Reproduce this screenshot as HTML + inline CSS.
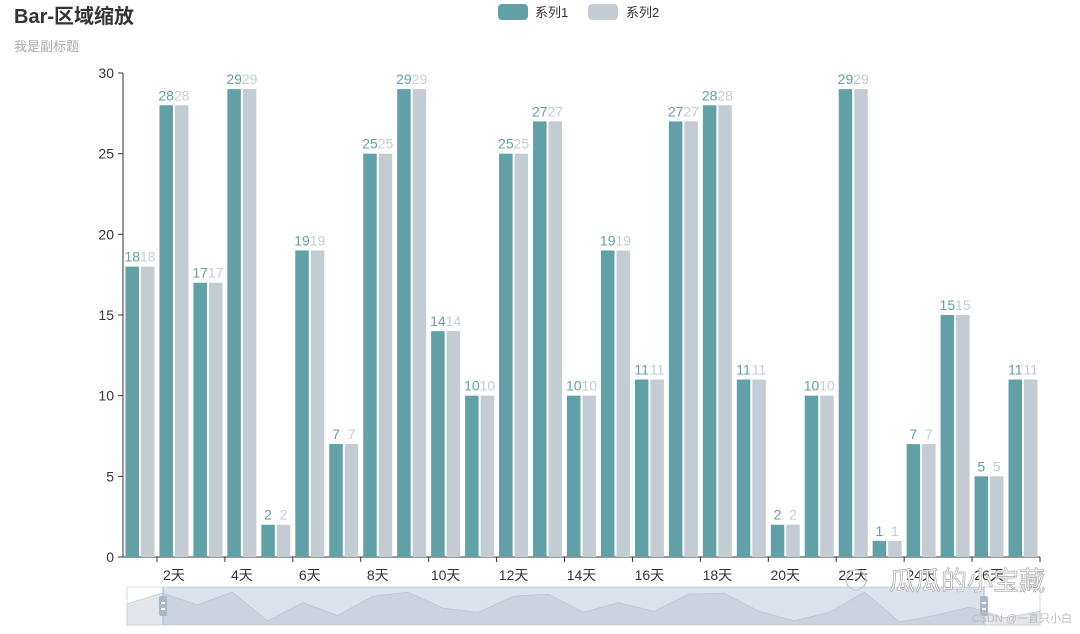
<!DOCTYPE html>
<html><head><meta charset="utf-8">
<style>
body{margin:0;background:#fff;width:1080px;height:629px;overflow:hidden;font-family:"Liberation Sans","Noto Sans CJK SC",sans-serif;}
</style></head>
<body>
<svg id="c" width="1080" height="629" xmlns="http://www.w3.org/2000/svg">
<text x="14" y="23" font-size="20" font-weight="bold" fill="#333">Bar-区域缩放</text>
<text x="14" y="51" font-size="13" fill="#aaa">我是副标题</text>
<g>
<g><rect x="498" y="4" width="30" height="16" rx="4" fill="#62a0a8"/><text x="535" y="17" font-size="13" fill="#333">系列1</text></g>
<g><rect x="588" y="4" width="30" height="16" rx="4" fill="#c4ccd3"/><text x="626" y="17" font-size="13" fill="#333">系列2</text></g>
</g>
<g id="plot"></g>
<g id="dz"></g>
<g>
<circle cx="856" cy="580" r="10" fill="none" stroke="#ccc" stroke-width="1.5"/>
<text x="856" y="585" font-size="12" fill="#ccc" text-anchor="middle">“</text>
<text x="1045" y="590" font-size="26" fill="#fff" stroke="#aaa" stroke-width="0.7" text-anchor="end">瓜瓜的小宝藏</text>
</g>
<text x="1072" y="622" font-size="11" fill="#bbb" text-anchor="end">CSDN @一直只小白</text>
</svg>
<script>
const categories=[];for(let i=1;i<=27;i++)categories.push(i+"天");
const series1=[18,28,17,29,2,19,7,25,29,14,10,25,27,10,19,11,27,28,11,2,10,29,1,7,15,5,11];
const series2=[18,28,17,29,2,19,7,25,29,14,10,25,27,10,19,11,27,28,11,2,10,29,1,7,15,5,11];
const yTicks=[0,5,10,15,20,25,30];
const NS="http://www.w3.org/2000/svg";
const X0=123,X1=1040,Y0=557,Y1=73,YMAX=30;
const gw=(X1-X0)/categories.length;
const xs=i=>X0+i*gw;
const ys=v=>Y0-(v/YMAX)*(Y0-Y1);
function mk(t,a,p){const e=document.createElementNS(NS,t);for(const k in a)e.setAttribute(k,a[k]);p.appendChild(e);return e;}
const plot=document.getElementById('plot');
const ya=mk('line',{x1:X0,y1:Y1,x2:X0,y2:Y0,stroke:'#333'},plot);


yTicks.forEach(v=>{
 mk('line',{x1:X0-5,y1:ys(v),x2:X0,y2:ys(v),stroke:'#333'},plot);
 const t=mk('text',{x:X0-9,y:ys(v)+5,'font-size':14,fill:'#333','text-anchor':'end'},plot);
 t.textContent=v;
 
 
});
const xa=mk('line',{x1:X0,y1:Y0,x2:X1,y2:Y0,stroke:'#333'},plot);


for(let i=1;i<categories.length;i+=2){
 mk('line',{x1:xs(i),y1:Y0,x2:xs(i),y2:Y0+5,stroke:'#333'},plot);
 const t=mk('text',{x:xs(i)+gw/2,y:Y0+23,'font-size':14,fill:'#333','text-anchor':'middle'},plot);
 t.textContent=categories[i];
 
 
}
mk('line',{x1:X1,y1:Y0,x2:X1,y2:Y0+5,stroke:'#333'},plot);
const bw=13.5;
[[series1,'#62a0a8',-bw-1],[series2,'#c4ccd3',1]].forEach(([s,c,off],si)=>{
 s.forEach((v,i)=>{
  const cx=xs(i)+gw/2;
  const r=mk('rect',{x:cx+off,y:ys(v),width:bw,height:Y0-ys(v),fill:c},plot);
  
  
  const t=mk('text',{x:cx+off+bw/2,y:ys(v)-5,'font-size':14,fill:c,'text-anchor':'middle'},plot);
  t.textContent=v;
  
  
 });
});
const dz=document.getElementById('dz');
const DX0=127,DX1=1040,DY0=587,DY1=625;
const dzBg=mk('rect',{x:DX0,y:DY0,width:DX1-DX0,height:DY1-DY0,fill:'#fff',stroke:'#d2dbee'},dz);


let pts=[];const n=series1.length;
series1.forEach((v,i)=>{pts.push((DX0+i*(DX1-DX0)/(n-1)).toFixed(1)+','+(DY1-2-(v/YMAX)*(DY1-DY0-6)).toFixed(1));});
mk('polygon',{points:DX0+','+DY1+' '+pts.join(' ')+' '+DX1+','+DY1,fill:'#e3e6ea',stroke:'#c9ced6','stroke-width':0.8},dz);
const sel=mk('rect',{x:163,y:DY0,width:984-163,height:DY1-DY0,fill:'rgba(167,183,204,0.4)'},dz);


[163,984].forEach((hx,k)=>{
 const h=mk('rect',{x:hx-4,y:DY0+9,width:8,height:20,rx:2,fill:'#a7b7cc'},dz);
 
 
 mk('line',{x1:hx,y1:DY0,x2:hx,y2:DY1,stroke:'#a7b7cc'},dz);
 mk('rect',{x:hx-2,y:DY0+15,width:4,height:2,fill:'#fff'},dz);
 mk('rect',{x:hx-2,y:DY0+21,width:4,height:2,fill:'#fff'},dz);
});
</script>
</body></html>
